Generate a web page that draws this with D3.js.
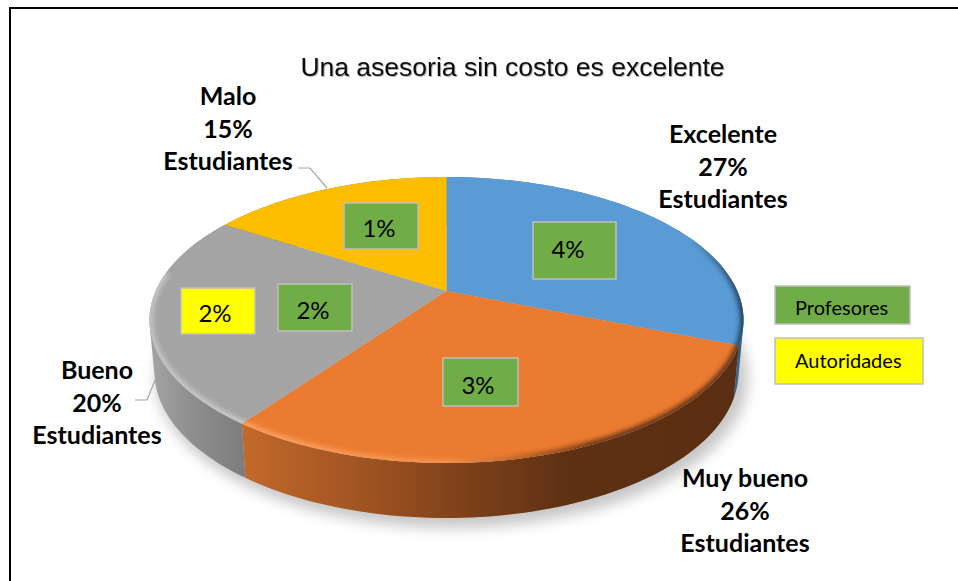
<!DOCTYPE html>
<html lang="es">
<head>
    <meta charset="utf-8">
    <script src="https://d3js.org/d3.v7.min.js"></script>
    <style>
        html, body { margin: 0; padding: 0; background: #fff; }
        svg { display: block; }
        .title { font-family: "Liberation Sans", sans-serif; font-size: 26.5px; fill: #111; }
        .label { font-family: Lato, sans-serif; font-size: 25px; font-weight: 700; fill: #000; text-anchor: middle; }
        .tag { font-family: Lato, sans-serif; font-size: 24px; fill: #000; text-anchor: middle; }
        .legend { font-family: Lato, sans-serif; font-size: 20px; fill: #000; }
    </style>
</head>
<body>
<div id="canvas"></div>
<script>
    var categories = ["Excelente", "Muy bueno", "Bueno", "Malo"];
    var estudiantes = [27, 26, 20, 15];
    var profesores = [4, 3, 2, 1];
    var autoridades = [0, 0, 2, 0];
    var sliceColors = ["#5b9bd5", "#eb7b30", "#a4a4a4", "#fdbe00"];
    var legendNames = ["Profesores", "Autoridades"];
    var legendColors = ["#70ad47", "#ffff00"];

    var svg = d3.select("#canvas").append("svg").attr("width", 958).attr("height", 581);
    var defs = svg.append("defs");

    defs.append("filter").attr("id", "soft").attr("x", "-20%").attr("y", "-20%").attr("width", "140%").attr("height", "140%")
        .append("feGaussianBlur").attr("stdDeviation", 7);
    defs.append("filter").attr("id", "rim").attr("x", "-10%").attr("y", "-10%").attr("width", "120%").attr("height", "120%")
        .append("feGaussianBlur").attr("stdDeviation", 2.5);
    defs.append("filter").attr("id", "tshadow").attr("x", "-5%").attr("y", "-20%").attr("width", "110%").attr("height", "140%")
        .append("feDropShadow").attr("dx", 1).attr("dy", 1).attr("stdDeviation", 0.7).attr("flood-color", "#000").attr("flood-opacity", 0.3);

    // frame
    svg.append("path")
        .attr("d", "M10,581V8H958")
        .attr("fill", "none").attr("stroke", "#000").attr("stroke-width", 2);

    // the pie is seen in perspective, so the apex is above the centre of the ellipse
    var top3d = { cx: 446.5, cy: 320, rx: 297, ry: 143 };
    var bottom3d = { cx: 446.5, cy: 372, rx: 292, ry: 146 };
    var skew = -0.203;

    function project(e, angle) {
        var u = Math.sin(angle), v = -Math.cos(angle);
        var d = 1 + skew * v;
        return [e.cx + e.rx * u * Math.sqrt(1 - skew * skew) / d,
                e.cy + e.ry * (v + skew) / d];
    }
    var line = d3.line();
    function rimPoints(e, a0, a1) {
        var n = Math.max(2, Math.ceil((a1 - a0) * 40));
        return d3.range(n + 1).map(function (i) { return project(e, a0 + (a1 - a0) * i / n); });
    }

    var pie = d3.pie().sort(null).value(function (i) {
        return estudiantes[i] + profesores[i] + autoridades[i];
    });
    var arcs = pie(d3.range(categories.length));
    var apex = [top3d.cx, top3d.cy + top3d.ry * skew];

    function addGradient(id, x1, x2, stops) {
        var g = defs.append("linearGradient").attr("id", id)
            .attr("gradientUnits", "userSpaceOnUse")
            .attr("x1", x1).attr("x2", x2).attr("y1", 0).attr("y2", 0);
        stops.forEach(function (s) {
            g.append("stop").attr("offset", s[0]).attr("stop-color", s[1]);
        });
    }

    // gradients of the side wall
    addGradient("side0", 725, 746, [[0, "#3f75a5"], [1, "#2f5878"]]);
    addGradient("side1", 238, 735, [[0, "#c4692b"], [0.2, "#a85824"], [0.42, "#84441b"], [0.66, "#5e3113"], [1, "#5a2e12"]]);
    addGradient("side2", 150, 242, [[0, "#a4a4a4"], [0.45, "#8e8e8e"], [1, "#7e7e7e"]]);
    addGradient("side3", 150, 446, [[0, "#99731a"], [1, "#99731a"]]);

    // gradients of the bevel along the front edge of the top face
    addGradient("bevel0", 690, 745, [[0, "#5b9bd5"], [1, "#1c3a55"]]);
    addGradient("bevel1", 238, 735, [[0, "#fba566"], [0.42, "#f59350"], [0.6, "#a9581f"], [0.72, "#5e3113"], [1, "#5e3113"]]);
    addGradient("bevel2", 150, 242, [[0, "#c6c6c6"], [1, "#cdcdcd"]]);
    addGradient("bevel3", 150, 446, [[0, "#fdbe00"], [1, "#fdbe00"]]);

    // soft shadow below the pie
    svg.append("path")
        .attr("d", line(rimPoints({ cx: 452, cy: 378, rx: 296, ry: 150 }, 0, 2 * Math.PI)) + "Z")
        .attr("fill", "#000").attr("opacity", 0.22).attr("filter", "url(#soft)");

    // side wall: one quad per rim step so the outline stays full at both ends of the ellipse.
    // all quads wound the same way, otherwise overlaps cancel out under nonzero fill
    var wall = svg.append("g");
    arcs.forEach(function (d) {
        var top = rimPoints(top3d, d.startAngle, d.endAngle);
        var bottom = rimPoints(bottom3d, d.startAngle, d.endAngle);
        var quads = d3.range(top.length - 1).map(function (i) {
            var q = [top[i], top[i + 1], bottom[i + 1], bottom[i]];
            if (d3.polygonArea(q) < 0) q.reverse();
            return line(q) + "Z";
        });
        wall.append("path")
            .attr("d", quads.join(""))
            .attr("fill", "url(#side" + d.index + ")");
    });

    // top faces, the bevel only shows on the part of the rim that faces us
    var bevelFrom = 1.1, bevelTo = 4.85;
    var faces = svg.append("g");
    arcs.forEach(function (d) {
        var pts = [apex].concat(rimPoints(top3d, d.startAngle, d.endAngle));
        var path = line(pts) + "Z";
        defs.append("clipPath").attr("id", "face" + d.index).append("path").attr("d", path);
        faces.append("path").attr("d", path).attr("fill", sliceColors[d.index]);
        var a0 = Math.max(d.startAngle - 0.1, bevelFrom), a1 = Math.min(d.endAngle + 0.1, bevelTo);
        if (a1 <= a0) return;
        faces.append("g").attr("clip-path", "url(#face" + d.index + ")")
            .append("path")
            .attr("d", line(rimPoints(top3d, a0, a1)))
            .attr("fill", "none")
            .attr("stroke", "url(#bevel" + d.index + ")")
            .attr("stroke-width", 7)
            .attr("filter", "url(#rim)");
    });

    // leader lines
    var leaders = [
        [[298, 168], [310, 168], [327, 188]],
        [[135, 400], [147, 400], [156, 378]]
    ];
    leaders.forEach(function (p) {
        svg.append("path").attr("d", line(p)).attr("fill", "none").attr("stroke", "#a6a6a6").attr("stroke-width", 1.2);
    });

    // title
    svg.append("text").attr("class", "title").attr("x", 512.5).attr("y", 76)
        .attr("text-anchor", "middle").attr("filter", "url(#tshadow)")
        .text("Una asesoria sin costo es excelente");

    // labels of the students' share, centre x and first baseline
    var labelPos = [[723, 143], [745, 487], [97, 379], [228, 105]];
    arcs.forEach(function (d) {
        var i = d.index;
        var lines = [categories[i], estudiantes[i] + "%", "Estudiantes"];
        lines.forEach(function (t, k) {
            svg.append("text").attr("class", "label")
                .attr("x", labelPos[i][0]).attr("y", labelPos[i][1] + k * 32.5)
                .text(t);
        });
    });

    // small boxes on the slices, tx/ty is the centre of the text
    var tagBoxes = [
        { value: profesores[0], color: 0, x: 533, y: 222, w: 83, h: 57, tx: 568, ty: 250 },
        { value: profesores[1], color: 0, x: 443, y: 358, w: 75, h: 48, tx: 478, ty: 386 },
        { value: profesores[2], color: 0, x: 278, y: 284, w: 74, h: 47, tx: 313, ty: 311 },
        { value: profesores[3], color: 0, x: 344, y: 203, w: 74, h: 46, tx: 379, ty: 229 },
        { value: autoridades[2], color: 1, x: 181, y: 288, w: 74, h: 46, tx: 215, ty: 314 }
    ];
    tagBoxes.forEach(function (b) {
        svg.append("rect").attr("x", b.x).attr("y", b.y).attr("width", b.w).attr("height", b.h)
            .attr("fill", legendColors[b.color]).attr("stroke", "#bfbfbf").attr("stroke-width", 1.5);
        svg.append("text").attr("class", "tag")
            .attr("x", b.tx).attr("y", b.ty + 8)
            .text(b.value + "%");
    });

    // legend
    var legendBoxes = [
        { x: 775, y: 286, w: 135, h: 38, ty: 315 },
        { x: 775, y: 338, w: 148, h: 46, ty: 368 }
    ];
    legendBoxes.forEach(function (b, i) {
        svg.append("rect").attr("x", b.x).attr("y", b.y).attr("width", b.w).attr("height", b.h)
            .attr("fill", legendColors[i]).attr("stroke", "#bfbfbf").attr("stroke-width", 1.5);
        svg.append("text").attr("class", "legend")
            .attr("x", 795).attr("y", b.ty)
            .text(legendNames[i]);
    });
</script>
</body>
</html>
